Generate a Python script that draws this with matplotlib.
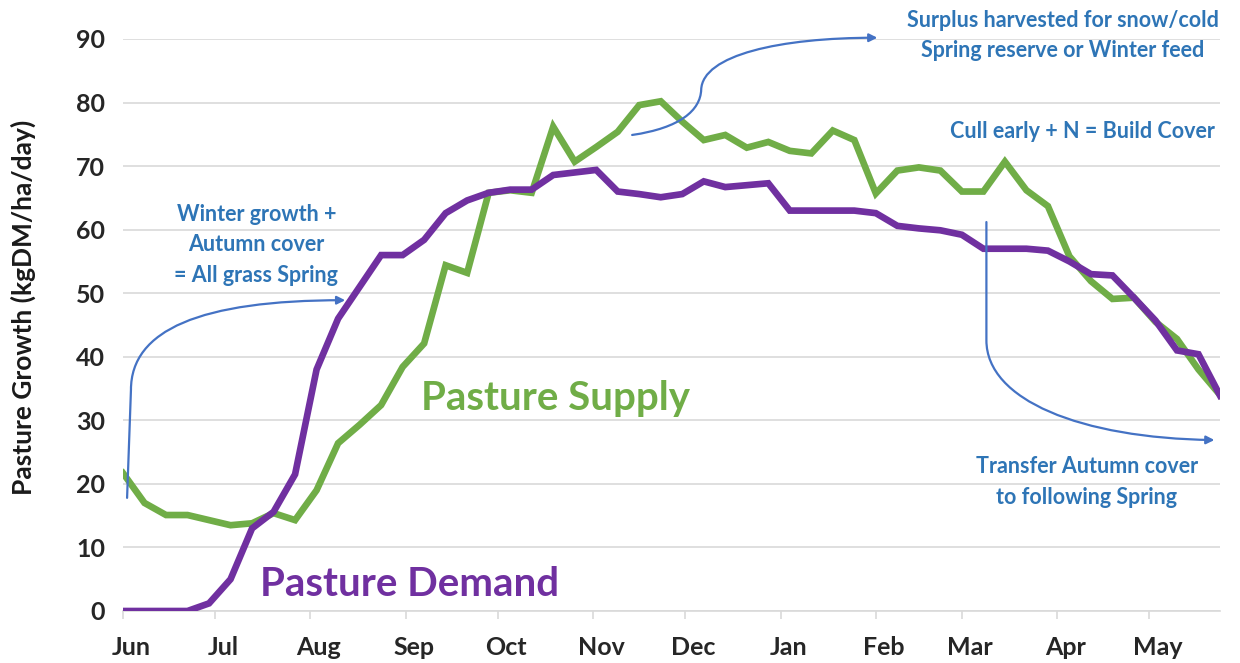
import matplotlib
matplotlib.use("Agg")
import matplotlib.pyplot as plt
import matplotlib.transforms as mtransforms
from matplotlib.patches import FancyArrowPatch
from matplotlib.path import Path
import numpy as np

plt.rcParams['font.family'] = ['Lato', 'DejaVu Sans']

# weekly values, week 0 = start of June
demand = [0, 0, 0, 0, 1.2, 5, 13, 15.6, 21.5, 38, 46, 51, 56, 56, 58.4, 62.6,
          64.6, 65.8, 66.3, 66.3, 68.6, 69, 69.4, 66, 65.6, 65.1, 65.6, 67.6,
          66.7, 67, 67.3, 63, 63, 63, 63, 62.6, 60.6, 60.2, 59.9, 59.2, 57, 57,
          57, 56.7, 55, 53, 52.8, 49.3, 45.7, 41, 40.4, 33.9]
supply = [21.7, 17, 15.1, 15.1, 14.3, 13.5, 13.8, 15.4, 14.3, 19, 26.4, 29.3,
          32.4, 38.4, 42.1, 54.4, 53.2, 65.8, 66.2, 65.8, 76.2, 70.7, 73, 75.4,
          79.6, 80.2, 77, 74.1, 74.9, 72.9, 73.8, 72.4, 72, 75.6, 74.1, 65.7,
          69.3, 69.8, 69.3, 66, 66, 70.7, 66.2, 63.7, 55.8, 51.9, 49.1, 49.3,
          45.5, 42.8, 38, 34]
months = ['Jun', 'Jul', 'Aug', 'Sep', 'Oct', 'Nov', 'Dec', 'Jan', 'Feb', 'Mar', 'Apr', 'May']
month_start_day = [0, 30, 61, 92, 122, 153, 183, 214, 245, 273, 304, 334]

weeks = np.arange(len(demand))
month_pos = np.array(month_start_day) / 7.0

GREEN = '#70AD47'
PURPLE = '#7030A0'
BLUE_TXT = '#2E75B6'
BLUE_ARR = '#4472C4'

fig = plt.figure(figsize=(12.4, 6.63), dpi=100)
ax = fig.add_axes([123 / 1240, 52 / 663, 1097 / 1240, 572 / 663])

ax.plot(weeks, supply, color=GREEN, lw=4.8, solid_joinstyle='miter', zorder=3)
ax.plot(weeks, demand, color=PURPLE, lw=4.8, solid_joinstyle='miter', zorder=4)

ax.set_xlim(0, 51)
ax.set_ylim(0, 90)
ax.set_yticks(range(0, 91, 10))
ax.grid(axis='y', color='#D9D9D9', lw=1.2)
ax.set_axisbelow(True)
for s in ['top', 'right', 'left']:
    ax.spines[s].set_visible(False)
ax.spines['bottom'].set_color('#D9D9D9')
ax.spines['bottom'].set_linewidth(1.2)

ax.set_xticks(month_pos)
ax.set_xticklabels(months, fontsize=18, fontweight='bold', color='#262626')
ax.tick_params(axis='x', length=6, color='#D9D9D9', width=1.2, pad=12)
ax.tick_params(axis='y', length=0, pad=13, labelsize=18, labelcolor='#262626')
for lab in ax.get_yticklabels():
    lab.set_fontweight('bold')
offset = mtransforms.ScaledTranslation(0.08, 0, fig.dpi_scale_trans)
for lab in ax.get_xticklabels():
    lab.set_transform(lab.get_transform() + offset)

ax.set_ylabel('Pasture Growth (kgDM/ha/day)', fontsize=19, fontweight='bold',
              color='#1a1a1a')
ax.yaxis.set_label_coords(-0.079, 0.53)

# series labels
ax.text(20.1, 33.5, 'Pasture Supply', color=GREEN, fontsize=29, fontweight='bold',
        ha='center', va='center')
ax.text(13.3, 4.2, 'Pasture Demand', color=PURPLE, fontsize=29, fontweight='bold',
        ha='center', va='center')

# annotation texts
ann = dict(color=BLUE_TXT, fontsize=15.5, fontweight='bold', ha='center', va='center',
           linespacing=1.55)
ax.text(6.2, 57.6, 'Winter growth +\nAutumn cover\n= All grass Spring', **ann)
ax.text(43.7, 90.6, 'Surplus harvested for snow/cold\nSpring reserve or Winter feed',
        clip_on=False, **ann)
ax.text(44.6, 75.4, 'Cull early + N = Build Cover', **ann)
ax.text(44.8, 20.3, 'Transfer Autumn cover\nto following Spring', **ann)


def curved_arrow(verts, codes):
    arr = FancyArrowPatch(path=Path(verts, codes), arrowstyle='-|>', mutation_scale=12,
                          color=BLUE_ARR, lw=1.6, zorder=5, clip_on=False)
    ax.add_patch(arr)


C4 = Path.CURVE4
curved_arrow([(0.19, 17.8), (0.37, 34.8), (0.37, 44.2), (3.58, 48.9), (10.33, 48.9)],
             [Path.MOVETO, Path.LINETO, C4, C4, C4])
curved_arrow([(23.67, 74.9), (25.91, 76.0), (26.84, 78.8), (26.88, 82.0),
              (26.93, 87.5), (30.56, 90.2), (35.07, 90.2)],
             [Path.MOVETO, C4, C4, C4, C4, C4, C4])
curved_arrow([(40.14, 61.2), (40.14, 42.6), (40.14, 33.2), (44.51, 27.2), (50.74, 26.9)],
             [Path.MOVETO, Path.LINETO, C4, C4, C4])

fig.savefig('out.png', dpi=100)
